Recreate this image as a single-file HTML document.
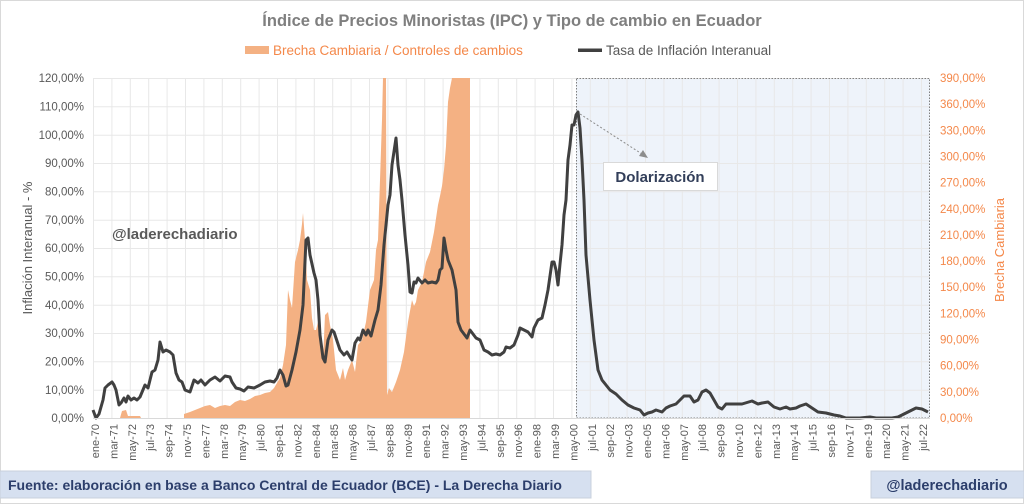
<!DOCTYPE html>
<html><head><meta charset="utf-8"><style>
html,body{margin:0;padding:0;background:#fff}
svg{display:block;font-family:"Liberation Sans",sans-serif}
</style></head><body>
<svg width="1024" height="504" viewBox="0 0 1024 504" xmlns="http://www.w3.org/2000/svg">
<rect x="0.5" y="0.5" width="1023" height="503" fill="#fff" stroke="#d9d9d9"/>
<text x="512" y="26" text-anchor="middle" font-size="16.5" font-weight="bold" fill="#7f7f7f">Índice de Precios Minoristas (IPC) y Tipo de cambio en Ecuador</text>
<rect x="245" y="46" width="24" height="8" fill="#F4B183"/>
<text x="273" y="55" font-size="13.5" fill="#F4884A">Brecha Cambiaria / Controles de cambios</text>
<rect x="578" y="48.5" width="24" height="3.5" fill="#404040"/>
<text x="606" y="55" font-size="13.5" fill="#595959">Tasa de Inflación Interanual</text>
<!-- dollarization shade -->
<rect x="576" y="78" width="354" height="340" fill="#eef3fa"/>
<!-- grid -->
<g stroke="#e8e8e8" stroke-width="1">
<line x1="93" y1="78.5" x2="930" y2="78.5"/><line x1="93" y1="106.8" x2="930" y2="106.8"/><line x1="93" y1="135.2" x2="930" y2="135.2"/><line x1="93" y1="163.5" x2="930" y2="163.5"/><line x1="93" y1="191.8" x2="930" y2="191.8"/><line x1="93" y1="220.2" x2="930" y2="220.2"/><line x1="93" y1="248.5" x2="930" y2="248.5"/><line x1="93" y1="276.8" x2="930" y2="276.8"/><line x1="93" y1="305.2" x2="930" y2="305.2"/><line x1="93" y1="333.5" x2="930" y2="333.5"/><line x1="93" y1="361.8" x2="930" y2="361.8"/><line x1="93" y1="390.2" x2="930" y2="390.2"/>
<line x1="93.5" y1="78" x2="93.5" y2="418"/><line x1="111.9" y1="78" x2="111.9" y2="418"/><line x1="130.3" y1="78" x2="130.3" y2="418"/><line x1="148.7" y1="78" x2="148.7" y2="418"/><line x1="167.1" y1="78" x2="167.1" y2="418"/><line x1="185.5" y1="78" x2="185.5" y2="418"/><line x1="203.9" y1="78" x2="203.9" y2="418"/><line x1="222.3" y1="78" x2="222.3" y2="418"/><line x1="240.7" y1="78" x2="240.7" y2="418"/><line x1="259.1" y1="78" x2="259.1" y2="418"/><line x1="277.5" y1="78" x2="277.5" y2="418"/><line x1="295.9" y1="78" x2="295.9" y2="418"/><line x1="314.3" y1="78" x2="314.3" y2="418"/><line x1="332.7" y1="78" x2="332.7" y2="418"/><line x1="351.1" y1="78" x2="351.1" y2="418"/><line x1="369.5" y1="78" x2="369.5" y2="418"/><line x1="387.9" y1="78" x2="387.9" y2="418"/><line x1="406.3" y1="78" x2="406.3" y2="418"/><line x1="424.7" y1="78" x2="424.7" y2="418"/><line x1="443.1" y1="78" x2="443.1" y2="418"/><line x1="461.5" y1="78" x2="461.5" y2="418"/><line x1="479.9" y1="78" x2="479.9" y2="418"/><line x1="498.3" y1="78" x2="498.3" y2="418"/><line x1="516.7" y1="78" x2="516.7" y2="418"/><line x1="535.1" y1="78" x2="535.1" y2="418"/><line x1="553.5" y1="78" x2="553.5" y2="418"/><line x1="571.9" y1="78" x2="571.9" y2="418"/><line x1="590.3" y1="78" x2="590.3" y2="418"/><line x1="608.7" y1="78" x2="608.7" y2="418"/><line x1="627.1" y1="78" x2="627.1" y2="418"/><line x1="645.5" y1="78" x2="645.5" y2="418"/><line x1="663.9" y1="78" x2="663.9" y2="418"/><line x1="682.3" y1="78" x2="682.3" y2="418"/><line x1="700.7" y1="78" x2="700.7" y2="418"/><line x1="719.1" y1="78" x2="719.1" y2="418"/><line x1="737.5" y1="78" x2="737.5" y2="418"/><line x1="755.9" y1="78" x2="755.9" y2="418"/><line x1="774.3" y1="78" x2="774.3" y2="418"/><line x1="792.7" y1="78" x2="792.7" y2="418"/><line x1="811.1" y1="78" x2="811.1" y2="418"/><line x1="829.5" y1="78" x2="829.5" y2="418"/><line x1="847.9" y1="78" x2="847.9" y2="418"/><line x1="866.3" y1="78" x2="866.3" y2="418"/><line x1="884.7" y1="78" x2="884.7" y2="418"/><line x1="903.1" y1="78" x2="903.1" y2="418"/><line x1="921.5" y1="78" x2="921.5" y2="418"/>
</g>
<rect x="576.5" y="78.5" width="353" height="339.5" fill="none" stroke="#7f7f7f" stroke-dasharray="1.5,1.5"/>
<!-- orange area -->
<path fill="#F4B183" d="M120,418 L122,411 L126,410 L128,416 L140,416 L141,418 L184,418 L184,414 L190,412 L195,410 L200,408 L205,406 L210,405 L215,408 L220,406 L225,405 L230,406 L235,402 L240,400 L245,401 L250,399 L255,396 L260,395 L265,393 L270,392 L274,388 L277,383 L280,378 L283,365 L286,345 L288,290 L290,300 L292,308 L295,262 L298,250 L300,240 L302,224 L303,213 L305,240 L307,280 L310,290 L312,318 L314,330 L316,330 L318,322 L320,340 L323,360 L325,315 L328,312 L330,325 L333,340 L336,370 L338,375 L340,380 L343,368 L345,380 L348,370 L352,360 L355,372 L358,345 L362,340 L366,322 L370,290 L374,280 L376,250 L378,240 L380,180 L382,120 L383,78 L386,78 L387,395 L389,388 L392,392 L396,382 L400,370 L404,352 L408,322 L412,300 L414,306 L416,302 L418,290 L422,282 L426,262 L430,252 L434,232 L438,205 L440,196 L442,186 L444,170 L446,146 L448,102 L450,88 L452,78 L470,78 L470,418 Z"/>
<!-- inflation line -->
<polyline fill="none" stroke="#404040" stroke-width="3" stroke-linejoin="round" points="93,410 96,418 99,414 103,400 105,388 108,385 112,382 114,385 116,390 119,405 121,403 124,398 126,402 128,396 131,400 134,398 137,400 140,397 145,385 148,388 152,372 155,370 158,360 160,342 163,352 166,350 170,352 173,355 176,373 179,380 182,382 185,390 190,392 194,380 198,383 201,380 205,385 210,380 215,377 220,381 225,376 230,377 232,382 236,388 240,389 244,391 248,387 254,388 260,385 265,382 270,381 274,382 277,378 280,370 283,375 286,386 288,385 292,370 296,352 300,330 303,305 306,240 308,238 310,255 314,273 316,280 318,300 320,335 323,358 325,362 328,340 330,335 332,330 334,332 336,338 340,350 344,355 347,352 350,357 352,360 355,343 358,338 360,340 363,330 366,335 368,330 371,336 375,320 378,310 381,285 384,245 388,205 390,195 392,165 396,138 398,165 400,180 402,200 405,235 408,265 410,292 412,293 414,282 416,283 418,278 422,283 425,280 428,283 432,282 436,283 438,280 440,270 442,268 444,238 446,250 448,260 450,265 452,270 456,290 458,322 461,330 464,334 467,338 470,330 476,338 480,340 484,350 488,352 492,355 496,354 500,355 504,352 506,347 510,348 514,345 518,335 520,328 524,330 528,332 532,337 534,328 538,320 542,318 545,305 548,290 552,262 554,262 556,270 558,285 560,264 562,245 564,215 566,200 568,160 570,145 572,125 574,125 576,115 578,112 580,128 582,160 584,200 586,255 590,300 594,340 598,370 602,380 606,385 610,390 616,394 622,400 628,405 634,408 640,410 644,415 648,413 652,412 656,410 662,412 666,408 670,406 676,404 680,400 684,396 690,396 694,402 698,400 702,392 706,390 710,393 714,400 718,407 722,409 726,404 734,404 742,404 752,401 758,404 762,403 768,402 774,407 780,409 786,407 790,409 796,408 800,406 806,404 812,408 818,412 826,413 834,415 840,416 846,418 860,418 870,417 876,418 886,418 892,418 898,417 904,414 910,411 916,408 922,409 928,412"/>
<line x1="93" y1="418.5" x2="930" y2="418.5" stroke="#d9d9d9"/>
<!-- annotation -->
<line x1="580" y1="114" x2="642" y2="154" stroke="#8c8c8c" stroke-dasharray="2,2"/>
<polygon points="648,158 639,156 643,150" fill="#8c8c8c"/>
<rect x="603.5" y="162.5" width="114" height="28" fill="#fff" stroke="#d9d9d9"/>
<text x="660" y="182" text-anchor="middle" font-size="15" font-weight="bold" fill="#333f5a">Dolarización</text>
<text x="112" y="239" font-size="15" font-weight="bold" fill="#595959">@laderechadiario</text>
<!-- left ticks -->
<g font-size="11.5" fill="#595959" text-anchor="end">
<text x="84" y="82">120,00%</text><text x="84" y="110.5">110,00%</text><text x="84" y="139">100,00%</text><text x="84" y="167">90,00%</text><text x="84" y="195.5">80,00%</text><text x="84" y="224">70,00%</text><text x="84" y="252">60,00%</text><text x="84" y="280.5">50,00%</text><text x="84" y="309">40,00%</text><text x="84" y="337">30,00%</text><text x="84" y="365.5">20,00%</text><text x="84" y="394">10,00%</text><text x="84" y="422">0,00%</text>
</g>
<g font-size="11.5" fill="#F4884A">
<text x="940" y="82">390,00%</text><text x="940" y="108">360,00%</text><text x="940" y="134.5">330,00%</text><text x="940" y="160.5">300,00%</text><text x="940" y="186.5">270,00%</text><text x="940" y="213">240,00%</text><text x="940" y="239">210,00%</text><text x="940" y="265">180,00%</text><text x="940" y="291">150,00%</text><text x="940" y="317.5">120,00%</text><text x="940" y="343.5">90,00%</text><text x="940" y="369.5">60,00%</text><text x="940" y="396">30,00%</text><text x="940" y="422">0,00%</text>
</g>
<text transform="translate(32,248) rotate(-90)" text-anchor="middle" font-size="13" fill="#595959">Inflación Interanual - %</text>
<text transform="translate(1004,250) rotate(-90)" text-anchor="middle" font-size="13" fill="#F4884A">Brecha Cambiaria</text>
<!-- x labels -->
<g font-size="11" fill="#595959" text-anchor="end">
<text transform="translate(99,424) rotate(-90)">ene-70</text><text transform="translate(117.4,424) rotate(-90)">mar-71</text><text transform="translate(135.8,424) rotate(-90)">may-72</text><text transform="translate(154.2,424) rotate(-90)">jul-73</text><text transform="translate(172.6,424) rotate(-90)">sep-74</text><text transform="translate(191,424) rotate(-90)">nov-75</text><text transform="translate(209.4,424) rotate(-90)">ene-77</text><text transform="translate(227.8,424) rotate(-90)">mar-78</text><text transform="translate(246.2,424) rotate(-90)">may-79</text><text transform="translate(264.6,424) rotate(-90)">jul-80</text><text transform="translate(283,424) rotate(-90)">sep-81</text><text transform="translate(301.4,424) rotate(-90)">nov-82</text><text transform="translate(319.8,424) rotate(-90)">ene-84</text><text transform="translate(338.2,424) rotate(-90)">mar-85</text><text transform="translate(356.6,424) rotate(-90)">may-86</text><text transform="translate(375,424) rotate(-90)">jul-87</text><text transform="translate(393.4,424) rotate(-90)">sep-88</text><text transform="translate(411.8,424) rotate(-90)">nov-89</text><text transform="translate(430.2,424) rotate(-90)">ene-91</text><text transform="translate(448.6,424) rotate(-90)">mar-92</text><text transform="translate(467,424) rotate(-90)">may-93</text><text transform="translate(485.4,424) rotate(-90)">jul-94</text><text transform="translate(503.8,424) rotate(-90)">sep-95</text><text transform="translate(522.2,424) rotate(-90)">nov-96</text><text transform="translate(540.6,424) rotate(-90)">ene-98</text><text transform="translate(559,424) rotate(-90)">mar-99</text><text transform="translate(577.4,424) rotate(-90)">may-00</text><text transform="translate(595.8,424) rotate(-90)">jul-01</text><text transform="translate(614.2,424) rotate(-90)">sep-02</text><text transform="translate(632.6,424) rotate(-90)">nov-03</text><text transform="translate(651,424) rotate(-90)">ene-05</text><text transform="translate(669.4,424) rotate(-90)">mar-06</text><text transform="translate(687.8,424) rotate(-90)">may-07</text><text transform="translate(706.2,424) rotate(-90)">jul-08</text><text transform="translate(724.6,424) rotate(-90)">sep-09</text><text transform="translate(743,424) rotate(-90)">nov-10</text><text transform="translate(761.4,424) rotate(-90)">ene-12</text><text transform="translate(779.8,424) rotate(-90)">mar-13</text><text transform="translate(798.2,424) rotate(-90)">may-14</text><text transform="translate(816.6,424) rotate(-90)">jul-15</text><text transform="translate(835,424) rotate(-90)">sep-16</text><text transform="translate(853.4,424) rotate(-90)">nov-17</text><text transform="translate(871.8,424) rotate(-90)">ene-19</text><text transform="translate(890.2,424) rotate(-90)">mar-20</text><text transform="translate(908.6,424) rotate(-90)">may-21</text><text transform="translate(927,424) rotate(-90)">jul-22</text>
</g>
<!-- footer -->
<rect x="0" y="471" width="591" height="27" fill="#d6e0f0" stroke="#c8d0dc"/>
<text x="8" y="490" font-size="14" font-weight="bold" fill="#2c3e6b">Fuente: elaboración en base a Banco Central de Ecuador (BCE) - La Derecha Diario</text>
<rect x="871" y="471" width="153" height="27" fill="#d6e0f0" stroke="#c8d0dc"/>
<text x="947" y="490" text-anchor="middle" font-size="14.5" font-weight="bold" fill="#2c3e6b">@laderechadiario</text>
</svg>
</body></html>
